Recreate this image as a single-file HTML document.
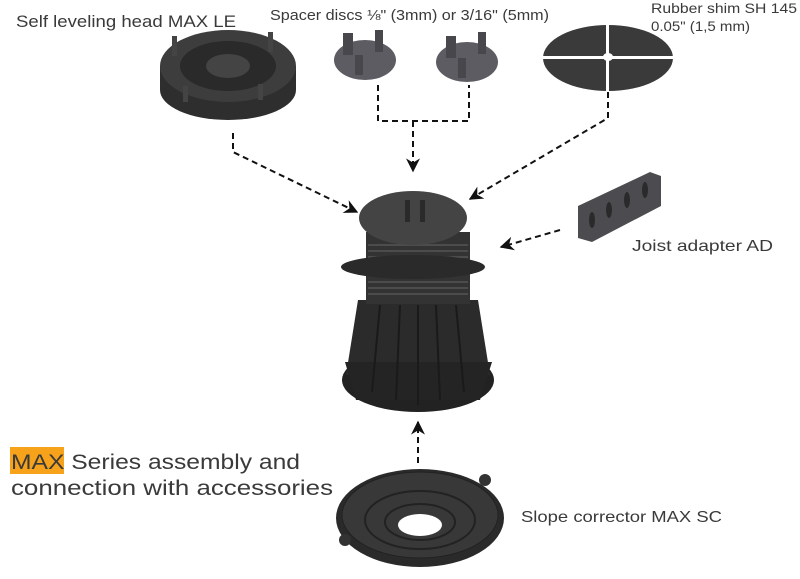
<!DOCTYPE html>
<html><head><style>
html,body{margin:0;padding:0;background:#fff;}
svg{display:block;}
text{font-family:"Liberation Sans",sans-serif;fill:#3a3a3a;}
</style></head><body>
<svg width="800" height="579" viewBox="0 0 800 579" xmlns="http://www.w3.org/2000/svg">
<defs>
<marker id="ah" viewBox="0 0 10 10" refX="9" refY="5" markerWidth="7" markerHeight="7" orient="auto-start-reverse">
<path d="M0,0 L10,5 L0,10 L3,5 z" fill="#111"/></marker>
</defs>

<!-- self leveling head -->
<ellipse cx="228" cy="90" rx="68" ry="30" fill="#2e2e2e"/>
<rect x="160" y="66" width="136" height="24" fill="#2e2e2e"/>
<ellipse cx="228" cy="66" rx="68" ry="36" fill="#3d3d3d"/>
<ellipse cx="228" cy="66" rx="48" ry="25" fill="#2a2a2a"/>
<ellipse cx="228" cy="66" rx="22" ry="12" fill="#444"/>
<rect x="172" y="36" width="5" height="20" fill="#444"/><rect x="268" y="32" width="5" height="20" fill="#444"/>
<rect x="183" y="86" width="5" height="16" fill="#444"/><rect x="258" y="84" width="5" height="16" fill="#444"/>

<!-- labels -->
<text x="16" y="27" font-size="17" textLength="220" lengthAdjust="spacingAndGlyphs">Self leveling head MAX LE</text>
<text x="270" y="20" font-size="14.5" textLength="279" lengthAdjust="spacingAndGlyphs">Spacer discs ⅛" (3mm) or 3/16" (5mm)</text>
<text x="651" y="13" font-size="14" textLength="146" lengthAdjust="spacingAndGlyphs">Rubber shim SH 145</text>
<text x="651" y="31" font-size="14" textLength="99" lengthAdjust="spacingAndGlyphs">0.05" (1,5 mm)</text>
<text x="632" y="251" font-size="16" textLength="141" lengthAdjust="spacingAndGlyphs">Joist adapter AD</text>
<text x="521" y="522" font-size="16" textLength="201" lengthAdjust="spacingAndGlyphs">Slope corrector MAX SC</text>
<rect x="10" y="447" width="54" height="27" fill="#f7a21b"/>
<text x="11" y="469" font-size="21" textLength="289" lengthAdjust="spacingAndGlyphs">MAX Series assembly and</text>
<text x="11" y="495" font-size="21" textLength="322" lengthAdjust="spacingAndGlyphs">connection with accessories</text>

<!-- spacer discs -->
<ellipse cx="365" cy="60" rx="31" ry="20" fill="#5c5c62"/>
<rect x="343" y="33" width="10" height="22" fill="#48484c"/><rect x="375" y="30" width="8" height="22" fill="#48484c"/>
<rect x="355" y="55" width="8" height="20" fill="#48484c"/>
<ellipse cx="467" cy="62" rx="31" ry="20" fill="#5c5c62"/>
<rect x="446" y="36" width="10" height="22" fill="#48484c"/><rect x="478" y="32" width="8" height="22" fill="#48484c"/>
<rect x="458" y="58" width="8" height="20" fill="#48484c"/>

<!-- rubber shim -->
<ellipse cx="608" cy="58" rx="65" ry="33" fill="#3a3a3a"/>
<rect x="543" y="56" width="130" height="3" fill="#fff"/>
<rect x="606" y="24" width="3" height="68" fill="#fff"/>
<ellipse cx="608" cy="57" rx="5" ry="4" fill="#fff"/>

<!-- dashed connectors -->
<g stroke="#111" stroke-width="2" fill="none" stroke-dasharray="6,4">
<polyline points="233,133 233,152 357,212" marker-end="url(#ah)"/>
<polyline points="378,85 378,121 469,121 469,85"/>
<line x1="413" y1="121" x2="413" y2="171" marker-end="url(#ah)"/>
<polyline points="608,92 608,118 470,199" marker-end="url(#ah)"/>
<line x1="560" y1="230" x2="501" y2="247" marker-end="url(#ah)"/>
<line x1="418" y1="463" x2="418" y2="422" marker-end="url(#ah)"/>
</g>

<!-- joist adapter -->
<polygon points="578,206 650,172 661,176 661,206 592,242 578,238" fill="#4c4c50"/>
<g fill="#2a2a2a"><ellipse cx="592" cy="220" rx="3" ry="8"/><ellipse cx="609" cy="210" rx="3" ry="8"/><ellipse cx="627" cy="200" rx="3" ry="8"/><ellipse cx="645" cy="190" rx="3" ry="8"/></g>

<!-- pedestal -->
<ellipse cx="418" cy="380" rx="76" ry="32" fill="#222"/>
<polygon points="358,300 478,300 490,375 346,375" fill="#2b2b2b"/>
<polygon points="345,362 492,362 480,400 356,400" fill="#242424"/>
<rect x="366" y="232" width="104" height="72" fill="#333"/>
<g stroke="#555" stroke-width="1.5">
<line x1="368" y1="245" x2="468" y2="245"/><line x1="368" y1="251" x2="468" y2="251"/><line x1="368" y1="257" x2="468" y2="257"/>
<line x1="368" y1="282" x2="468" y2="282"/><line x1="368" y1="288" x2="468" y2="288"/><line x1="368" y1="294" x2="468" y2="294"/>
</g>
<g stroke="#1a1a1a" stroke-width="2">
<line x1="380" y1="305" x2="372" y2="392"/><line x1="400" y1="305" x2="396" y2="400"/><line x1="418" y1="305" x2="418" y2="405"/><line x1="436" y1="305" x2="440" y2="400"/><line x1="456" y1="305" x2="464" y2="392"/>
</g>
<ellipse cx="413" cy="267" rx="72" ry="12" fill="#2a2a2a"/>
<ellipse cx="413" cy="218" rx="54" ry="27" fill="#444"/>
<rect x="405" y="200" width="5" height="22" fill="#2a2a2a"/><rect x="420" y="200" width="5" height="22" fill="#2a2a2a"/>

<!-- slope corrector -->
<ellipse cx="420" cy="518" rx="84" ry="49" fill="#2a2a2a"/>
<ellipse cx="420" cy="515" rx="78" ry="43" fill="#383838" stroke="#222" stroke-width="1"/>
<ellipse cx="420" cy="520" rx="55" ry="29" fill="none" stroke="#222" stroke-width="2"/>
<ellipse cx="420" cy="522" rx="35" ry="18" fill="none" stroke="#222" stroke-width="2"/>
<ellipse cx="420" cy="525" rx="22" ry="11" fill="#fff"/>
<circle cx="485" cy="480" r="6" fill="#333"/><circle cx="345" cy="540" r="6" fill="#333"/>
</svg>
</body></html>
